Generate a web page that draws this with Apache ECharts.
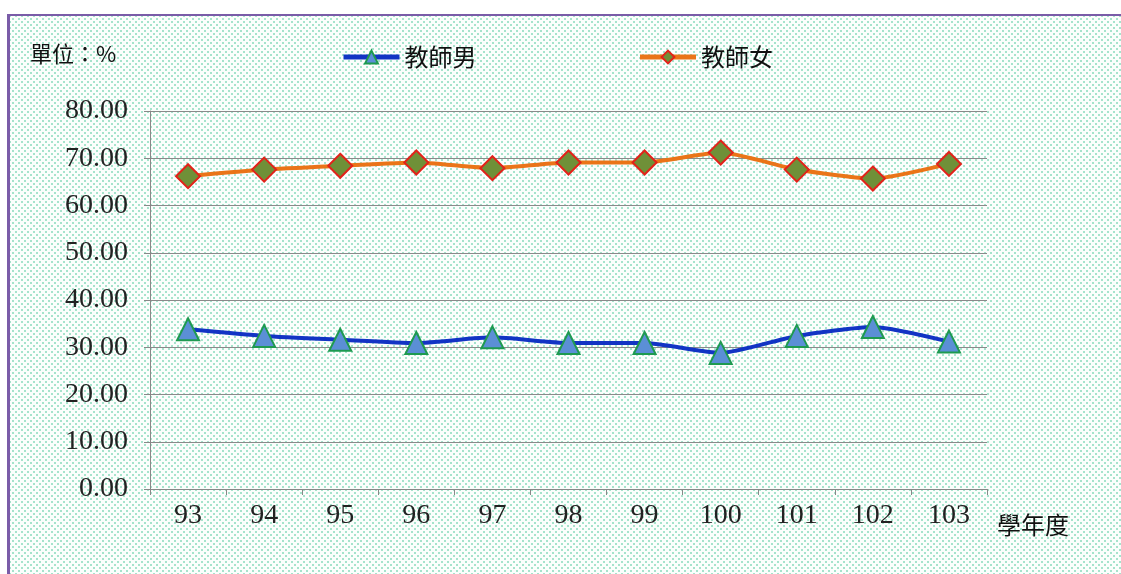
<!DOCTYPE html>
<html>
<head>
<meta charset="utf-8">
<script src="https://cdn.jsdelivr.net/npm/echarts@6/dist/echarts.min.js"></script>
<style>
    html, body { margin: 0; padding: 0; background: #fff; }
    #frame {
        position: absolute; left: 7px; top: 14px; width: 1112px; height: 566px;
        border-left: 3px solid #7a5ca8; border-top: 2px solid #7a5ca8;
        background-color: #fbfefc;
        background-image:
            radial-gradient(circle, #a6e3cc 1px, transparent 1.4px),
            radial-gradient(circle, #a6e3cc 1px, transparent 1.4px);
        background-size: 6px 6px, 6px 6px;
        background-position: 0 0, 3px 3px;
    }
    #main { position: absolute; left: 0; top: 0; width: 1121px; height: 574px; }
</style>
</head>
<body>
<div id="frame"></div>
<div id="main"></div>
<script>
// 學年度
const years = ['93', '94', '95', '96', '97', '98', '99', '100', '101', '102', '103']
// 教師男 / 教師女 (%)
const male = [33.8, 32.4, 31.6, 30.9, 32.1, 30.9, 30.9, 28.8, 32.4, 34.3, 31.2]
const female = [66.2, 67.6, 68.4, 69.1, 67.9, 69.1, 69.1, 71.2, 67.6, 65.7, 68.8]
const yTicks = { min: 0, max: 80, interval: 10 }

const chart = echarts.init(document.getElementById('main'))
const serif = '"Liberation Serif", "DejaVu Serif", serif'
const cjk = '"Noto Sans CJK TC", "Noto Sans CJK SC", sans-serif'

const option = {
    backgroundColor: 'transparent',
    animation: false,
    grid: { left: 150, right: 134, top: 111, bottom: 85 },
    legend: {
        top: 40,
        left: 336,
        itemWidth: 56,
        itemHeight: 16,
        itemGap: 161,
        lineStyle: { width: 5 },
        textStyle: { fontFamily: cjk, fontSize: 24, color: '#111', padding: [0, 0, 0, 0] },
        data: ['教師男', '教師女']
    },
    graphic: [
        {
            type: 'text', left: 30, top: 43,
            style: { text: '單位：%', font: '22px ' + cjk, fill: '#111' }
        }
    ],
    xAxis: {
        type: 'category',
        data: years,
        boundaryGap: true,
        name: '學年度',
        nameLocation: 'end',
        nameGap: 10,
        nameTextStyle: { fontFamily: cjk, fontSize: 24, color: '#111', verticalAlign: 'top', padding: [24, 0, 0, 0] },
        axisLine: { lineStyle: { color: '#888', width: 1 } },
        axisTick: { show: true, length: 6, lineStyle: { color: '#888' } },
        axisLabel: { fontFamily: serif, fontSize: 28, color: '#222', margin: 13 }
    },
    yAxis: {
        type: 'value',
        min: yTicks.min,
        max: yTicks.max,
        interval: yTicks.interval,
        axisLine: { show: true, lineStyle: { color: '#888', width: 1 } },
        axisTick: { show: true, length: 6, lineStyle: { color: '#888' } },
        splitLine: { lineStyle: { color: '#8a8a8a', width: 1 } },
        axisLabel: {
            fontFamily: serif, fontSize: 28, color: '#222', margin: 22,
            formatter: v => v.toFixed(2)
        }
    },
    series: [
        {
            name: '教師男',
            type: 'line',
            data: male,
            smooth: 0.2,
            symbol: 'triangle',
            symbolSize: 22,
            lineStyle: { color: '#1234c4', width: 4 },
            itemStyle: { color: '#5b8fd6', borderColor: '#1e9a50', borderWidth: 2 }
        },
        {
            name: '教師女',
            type: 'line',
            data: female,
            smooth: 0.2,
            symbol: 'diamond',
            symbolSize: 24,
            lineStyle: { color: '#ea7418', width: 4 },
            itemStyle: { color: '#6f9038', borderColor: '#e2221a', borderWidth: 2 }
        }
    ]
}
chart.setOption(option)
</script>
</body>
</html>
